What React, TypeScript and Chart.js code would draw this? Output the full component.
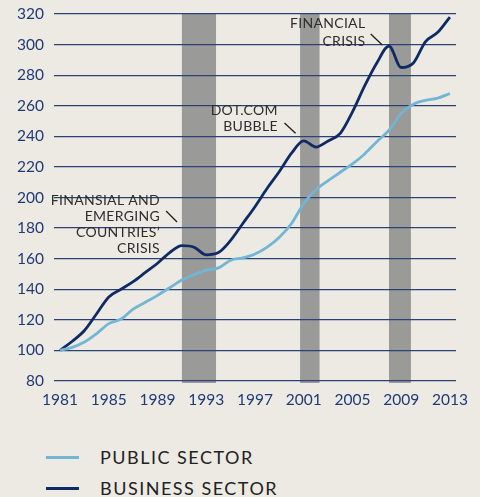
import React, { useEffect, useRef } from "react";
import { Chart, registerables } from "chart.js";

Chart.register(...registerables);

const years = [1981, 1982, 1983, 1984, 1985, 1986, 1987, 1988, 1989, 1990, 1991, 1992, 1993, 1994, 1995, 1996, 1997, 1998, 1999, 2000, 2001, 2002, 2003, 2004, 2005, 2006, 2007, 2008, 2009, 2010, 2011, 2012, 2013];
const publicSector = [100, 102, 105.5, 111, 117.5, 120.5, 127, 131.5, 136, 141, 146, 149.5, 152.5, 154, 159, 160.5, 163, 167.5, 174, 183, 196, 205, 211, 216.5, 222, 228.5, 236.5, 244, 255, 261, 263.5, 265, 268];
const businessSector = [100, 106, 113, 124, 135, 140, 145, 151, 157, 164, 168.5, 167.5, 162.5, 164, 172, 183, 194, 206, 217, 229, 237, 233, 237, 242, 256, 273, 288, 299, 285, 288, 302, 308, 318];
const xTicks = [1981, 1985, 1989, 1993, 1997, 2001, 2005, 2009, 2013];
const yMin = 80;
const yMax = 320;
const yStep = 20;

const recessionStart = [1991, 2000.7, 2008];
const recessionEnd = [1993.8, 2002.3, 2009.8];

const annotationTexts = [
  ["FINANSIAL AND", "EMERGING", "COUNTRIES\u2019", "CRISIS"],
  ["DOT.COM", "BUBBLE"],
  ["FINANCIAL", "CRISIS"],
];
const annotationX = [1989.2, 1998.87, 2006.06];
const annotationY = [198.3, 256.6, 313.9];
const leaderFromX = [1989.7, 1999.42, 2006.5];
const leaderFromY = [191.2, 248.7, 306.9];
const leaderToX = [1990.6, 2000.33, 2007.45];
const leaderToY = [184.0, 242.0, 299.7];

const legendLabels = ["PUBLIC SECTOR", "BUSINESS SECTOR"];

const PUBLIC_COLOR = "#72b6d5";
const BUSINESS_COLOR = "#0f2a64";
const BG = "#edeae4";
const FONT = "Lato, 'Open Sans', sans-serif";

const bandsPlugin = {
  id: "bands",
  beforeDraw(chart: any) {
    const { ctx, scales } = chart;
    const x = scales.x;
    const y = scales.y;
    ctx.save();
    ctx.fillStyle = "#9a9a99";
    const top = y.getPixelForValue(yMax);
    const bottom = y.getPixelForValue(yMin) + 2;
    for (let i = 0; i < recessionStart.length; i++) {
      const l = x.getPixelForValue(recessionStart[i]);
      const r = x.getPixelForValue(recessionEnd[i]);
      ctx.fillRect(l, top, r - l, bottom - top);
    }
    ctx.restore();
  },
};

const lineSteps = [16, 16, 18];

const annotationPlugin = {
  id: "annots",
  afterDatasetsDraw(chart: any) {
    const { ctx, scales } = chart;
    const x = scales.x;
    const y = scales.y;
    ctx.save();
    ctx.fillStyle = "#2e2e2e";
    ctx.font = `14px ${FONT}`;
    (ctx as any).letterSpacing = "0.3px";
    ctx.textAlign = "right";
    ctx.textBaseline = "middle";
    for (let i = 0; i < annotationTexts.length; i++) {
      const px = x.getPixelForValue(annotationX[i]);
      const py = y.getPixelForValue(annotationY[i]);
      annotationTexts[i].forEach((t, j) => {
        ctx.fillText(t, px, py + j * lineSteps[i]);
      });
      ctx.beginPath();
      ctx.strokeStyle = "#1e1e1e";
      ctx.lineWidth = 1.3;
      ctx.moveTo(x.getPixelForValue(leaderFromX[i]), y.getPixelForValue(leaderFromY[i]));
      ctx.lineTo(x.getPixelForValue(leaderToX[i]), y.getPixelForValue(leaderToY[i]));
      ctx.stroke();
    }
    ctx.restore();
  },
};

export default function App() {
  const ref = useRef<HTMLCanvasElement | null>(null);

  useEffect(() => {
    document.body.style.margin = "0";
    document.body.style.background = BG;
    const canvas = ref.current;
    if (!canvas) return;
    const chart = new Chart(canvas, {
      type: "line",
      data: {
        datasets: [
          {
            label: legendLabels[0],
            data: years.map((yr, i) => ({ x: yr, y: publicSector[i] })),
            borderColor: PUBLIC_COLOR,
            borderWidth: 2.8,
            pointRadius: 0,
            cubicInterpolationMode: "monotone",
            fill: false,
          },
          {
            label: legendLabels[1],
            data: years.map((yr, i) => ({ x: yr, y: businessSector[i] })),
            borderColor: BUSINESS_COLOR,
            borderWidth: 2.8,
            pointRadius: 0,
            cubicInterpolationMode: "monotone",
            fill: false,
          },
        ],
      },
      options: {
        responsive: false,
        animation: false,
        layout: { padding: { left: 0, right: 24, top: 14, bottom: 0 } },
        plugins: { legend: { display: false }, tooltip: { enabled: false } },
        scales: {
          x: {
            type: "linear",
            min: years[0] - 0.5,
            max: years[years.length - 1] + 0.5,
            grid: { display: false, drawTicks: false },
            border: { display: false },
            afterBuildTicks: (s: any) => {
              s.ticks = xTicks.map((v) => ({ value: v }));
            },
            afterFit: (s: any) => {
              s.height = 39;
              s.paddingLeft = 0;
              s.paddingRight = 0;
            },
            ticks: {
              autoSkip: false,
              maxRotation: 0,
              padding: 10,
              color: "#1f3a75",
              font: { family: FONT, size: 15.5 },
              callback: (v: any) => String(v),
            },
          },
          y: {
            min: yMin,
            max: yMax,
            grid: { color: "#2a4275", lineWidth: 1.2, drawTicks: false },
            border: { display: false },
            afterFit: (s: any) => {
              s.width = 54;
              s.paddingTop = 0;
              s.paddingBottom = 0;
            },
            ticks: {
              stepSize: yStep,
              padding: 10,
              color: "#1f3a75",
              font: { family: FONT, size: 15.5 },
            },
          },
        },
      },
      plugins: [bandsPlugin, annotationPlugin],
    } as any);
    return () => chart.destroy();
  }, []);

  const legendColors = [PUBLIC_COLOR, BUSINESS_COLOR];
  const legendTops = [457, 488];

  return (
    <div style={{ position: "relative", width: 480, height: 497, background: BG, overflow: "hidden" }}>
      <canvas ref={ref} width={480} height={420} style={{ display: "block" }} />
      {legendLabels.map((lab, i) => (
        <div key={lab}>
          <div
            style={{
              position: "absolute",
              left: 46,
              top: legendTops[i] - 1.5,
              width: 33,
              height: 3,
              background: legendColors[i],
            }}
          />
          <div
            style={{
              position: "absolute",
              left: 100,
              top: legendTops[i] - 12,
              height: 24,
              lineHeight: "24px",
              fontFamily: FONT,
              fontSize: 18,
              letterSpacing: "1.5px",
              color: "#222",
              whiteSpace: "nowrap",
            }}
          >
            {lab}
          </div>
        </div>
      ))}
    </div>
  );
}
